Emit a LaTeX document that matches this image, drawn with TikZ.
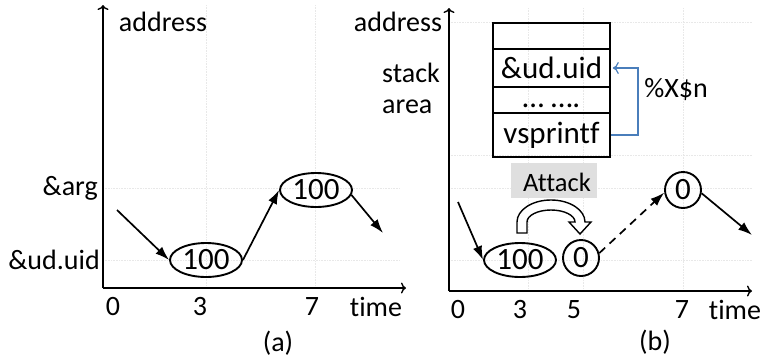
\documentclass[tikz,border=0pt]{standalone}
\usepackage{fontspec}
\setmainfont{Carlito}[Ligatures=NoCommon]
\usetikzlibrary{arrows.meta,shapes.geometric}
\definecolor{officeblue}{HTML}{4A7EBB}
\begin{document}
\begin{tikzpicture}[x=1pt,y=-1pt,
  lbl/.style={font=\fontsize{28}{30}\selectfont, inner sep=0pt},
  big/.style={font=\fontsize{31}{33}\selectfont, inner sep=0pt},
  axisline/.style={line width=1.4pt, -{To[length=5pt,width=11pt]}},
  gridline/.style={gray!18, densely dotted, line width=0.6pt},
  flow/.style={line width=1.7pt, -{Latex[length=14pt,width=9.5pt]}},
  valell/.style={draw, ellipse, line width=1.9pt, inner sep=0pt, minimum width=72pt, minimum height=34pt, font=\fontsize{31}{33}\selectfont},
  valcirc/.style={draw, circle, line width=1.9pt, inner sep=0pt, minimum size=36pt, font=\fontsize{31}{33}\selectfont},
  stackrow/.style={draw, line width=2.6pt, inner sep=0pt, minimum width=117pt, font=\fontsize{31}{33}\selectfont},
  bluearrow/.style={officeblue, line width=1.2pt, -{To[length=6pt,width=12pt]}, shorten >=1.5pt}]
\useasboundingbox (0,0) rectangle (764,360);

% ---------- grid lines ----------
\foreach \gx in {206,315} \draw[gridline] (\gx,5) -- (\gx,288);
\foreach \gy in {188,260} \draw[gridline] (103,\gy) -- (400,\gy);
\foreach \gx in {528,583,683} \draw[gridline] (\gx,8) -- (\gx,291);
\foreach \gy in {22,155,188,260} \draw[gridline] (449,\gy) -- (752,\gy);

% ---------- panel (a) ----------
\coordinate (aO) at (103,288);
\coordinate (aY) at (103,5);
\coordinate (aX) at (406,288);
\draw[axisline] (aO) -- (aY);
\draw[axisline] (aO) -- (aX);
\node[lbl] (aaddr) at (163,22) {address};
\node[lbl, anchor=east] (aarg) at (98,188) {\&arg};
\node[lbl, anchor=east] (auid) at (100,260) {\&ud.uid};
\node[lbl] (a0) at (113,307) {0};
\node[lbl] (a3) at (200,307) {3};
\node[lbl] (a7) at (312,307) {7};
\node[lbl] (atime) at (376,307) {time};
\node[lbl] (acap) at (278,343) {(a)};

\node[valell] (e1) at (206,260) {100};
\node[valell] (e2) at (316,190) {100};
\coordinate (as) at (117,210);
\coordinate (ae) at (383,233);
\draw[flow] (as) -- (e1.west);
\draw[flow] (e1.east) -- (e2.west);
\draw[flow] (e2.-8) -- (ae);

% ---------- panel (b) ----------
\coordinate (bO) at (449,291);
\coordinate (bY) at (449,8);
\coordinate (bX) at (752,291);
\draw[axisline] (bO) -- (bY);
\draw[axisline] (bO) -- (bX);
\node[lbl] (baddr) at (398,22) {address};
\node[lbl, anchor=west] (bstack) at (382,73) {stack};
\node[lbl, anchor=west] (barea) at (382,107) {area};
\node[lbl] (b0) at (458,310) {0};
\node[lbl] (b3) at (520,310) {3};
\node[lbl] (b5) at (574,310) {5};
\node[lbl] (b7) at (682,310) {7};
\node[lbl] (btime) at (735,310) {time};
\node[lbl] (bcap) at (655,342) {(b)};

% stack
\node[stackrow, minimum height=26pt] (r1) at (551.5,36) {};
\node[stackrow, minimum height=38pt] (r2) at (551.5,68) {\&ud.uid};
\node[stackrow, minimum height=26pt] (r3) at (551.5,100) {};
\node[big, yshift=-6pt] (dots) at (r3) {… ….};
\node[stackrow, minimum height=44pt] (r4) at (551.5,135) {vsprintf};
\coordinate (bk1) at (638,135);
\coordinate (bk2) at (638,68);
\draw[bluearrow] (r4.east) -- (bk1) -- (bk2) -- (r2.east);
\node[lbl] (fmt) at (676,90) {\%X\$n};

% attack label
\node[lbl, fill=gray!25, minimum width=86pt, minimum height=35pt] (attack) at (554,180.5) {};
\node[font=\fontsize{26.5}{28}\selectfont, inner sep=0pt] (attacktxt) at (557,182) {Attack};

% curved block arrow
\draw[line width=1.4pt, fill=white, line join=miter]
  (517,233) -- (517,222) arc[start angle=180, end angle=360, x radius=34, y radius=22]
  -- (591,222) -- (580,234) -- (569,222) -- (575,222)
  arc[start angle=0, end angle=-180, x radius=24, y radius=12]
  -- (527,233) -- cycle;

\node[valell] (b1) at (520,260) {100};
\node[valcirc] (c1) at (581,258) {0};
\node[valcirc] (c2) at (683,190) {0};
\coordinate (bs) at (458,202);
\coordinate (be) at (752,235);
\draw[flow] (bs) -- (b1.west);
\draw[flow, dashed, dash pattern=on 8pt off 6pt] (c1.15) -- (c2.188);
\draw[flow] (c2.-10) -- (be);
\end{tikzpicture}
\end{document}
